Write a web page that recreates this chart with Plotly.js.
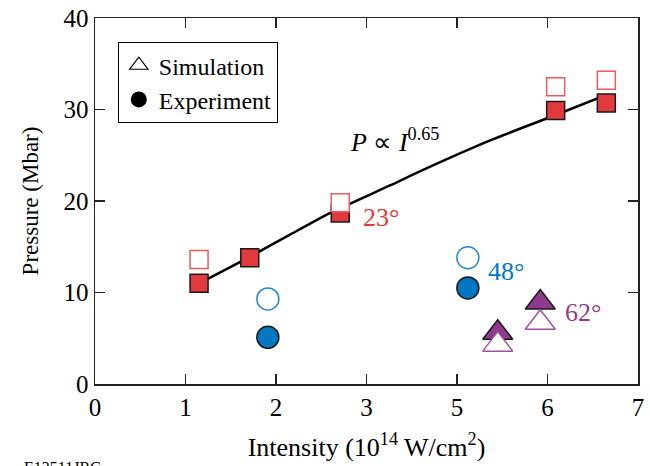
<!DOCTYPE html>
<html>
<head>
<meta charset="utf-8">
<script src="https://cdn.plot.ly/plotly-3.0.1.min.js"></script>
<style>html,body{margin:0;padding:0;background:#fff}#chart{width:650px;height:466px}</style>
</head>
<body>
<div id="chart"></div>
<script>
// Tick labels of the (non-uniform) intensity axis, one per equally spaced tick
const xTickLabels = [0, 1, 2, 3, 5, 6, 7];

// 23 deg (red squares)
const expSqX = [1.15, 1.71, 2.71, 6.09, 6.65];
const expSqY = [11.0, 13.8, 18.7, 29.9, 30.7];
const simSqX = [1.15, 2.71, 6.09, 6.65];
const simSqY = [13.6, 19.8, 32.5, 33.2];
// 48 deg (blue circles)
const expCircX = [1.91, 5.12];
const expCircY = [5.1, 10.5];
const simCircX = [1.91, 5.12];
const simCircY = [9.3, 13.8];
// 62 deg (purple triangles)
const expTriX = [5.45, 5.92];
const expTriY = [5.6, 8.9];
const simTriX = [5.45, 5.92];
const simTriY = [4.3, 6.7];
// Fit line P ~ I^0.65
const fitX = [1.15, 1.71, 2.15, 2.60, 3.52, 4.25, 5.36, 6.09, 6.65];
const fitY = [11.0, 13.9, 16.3, 18.7, 21.7, 23.4, 26.6, 29.4, 31.6];

// map intensity value to axis position via tick labels (piecewise linear)
function toPos(v) {
  for (let i = 0; i < xTickLabels.length - 1; i++) {
    const a = xTickLabels[i], b = xTickLabels[i + 1];
    if (v <= b || i === xTickLabels.length - 2) {
      return i + (v - a) / (b - a);
    }
  }
}
const P = arr => arr.map(toPos);

const serif = 'Liberation Serif, Times New Roman, serif';
const red = '#E0393E', redLight = '#EC5A5E';
const blue = '#0077C1', blueLight = '#2A8AD0';
const purple = '#8E3A8E', purpleLight = '#A050A0';
const edge = '#1a1a1a';

const traces = [
  {x: P(fitX), y: fitY, mode: 'lines', line: {color: '#000', width: 2.5, shape: 'spline', smoothing: 0.6}, showlegend: false, hoverinfo: 'skip'},
  {x: P(expSqX), y: expSqY, mode: 'markers', showlegend: false,
   marker: {symbol: 'square', size: 18, color: red, line: {color: edge, width: 1.5}}},
  {x: P(simSqX), y: simSqY, mode: 'markers', showlegend: false,
   marker: {symbol: 'square', size: 18, color: '#fff', line: {color: redLight, width: 1.5}}},
  {x: P(expCircX), y: expCircY, mode: 'markers', showlegend: false,
   marker: {symbol: 'circle', size: 22, color: blue, line: {color: edge, width: 1.5}}},
  {x: P(simCircX), y: simCircY, mode: 'markers', showlegend: false,
   marker: {symbol: 'circle', size: 22, color: '#fff', line: {color: blueLight, width: 1.5}}},
  {x: P(expTriX), y: expTriY, mode: 'markers', showlegend: false,
   marker: {symbol: 'triangle-up', size: 26, color: purple, line: {color: edge, width: 1.5}}},
  {x: P(simTriX), y: simTriY, mode: 'markers', showlegend: false,
   marker: {symbol: 'triangle-up', size: 26, color: '#fff', line: {color: purpleLight, width: 1.5}}},
  // legend entries
  {x: [null], y: [null], mode: 'markers', name: 'Simulation',
   marker: {symbol: 'triangle-up-open', size: 22, color: '#000', line: {width: 1.2}}},
  {x: [null], y: [null], mode: 'markers', name: 'Experiment',
   marker: {symbol: 'circle', size: 22, color: '#000'}}
];

const axisCommon = {
  showgrid: false, zeroline: false, showline: true, linecolor: '#222', linewidth: 1.5,
  mirror: 'ticks', ticks: 'inside', ticklen: 10, tickwidth: 1.5, tickcolor: '#222',
  tickfont: {family: serif, size: 25, color: '#000'}
};

const layout = {
  width: 650, height: 466,
  margin: {l: 95, r: 12, t: 18, b: 82},
  paper_bgcolor: '#fff', plot_bgcolor: '#fff',
  font: {family: serif, color: '#000'},
  xaxis: Object.assign({}, axisCommon, {
    range: [0, xTickLabels.length - 1],
    tickmode: 'array',
    tickvals: xTickLabels.map((_, i) => i),
    ticktext: xTickLabels.map(String),
    title: {text: 'Intensity (10<sup>14</sup> W/cm<sup>2</sup>)', font: {family: serif, size: 26}, standoff: 18}
  }),
  yaxis: Object.assign({}, axisCommon, {
    range: [0, 40], tickvals: [0, 10, 20, 30, 40],
    title: {text: 'Pressure (Mbar)', font: {family: serif, size: 23}, standoff: 18}
  }),
  showlegend: true,
  legend: {
    x: 0.042, y: 0.934, xanchor: 'left', yanchor: 'top',
    bgcolor: '#fff', bordercolor: '#000', borderwidth: 1,
    font: {family: serif, size: 24, color: '#000'},
    tracegroupgap: 0, itemwidth: 30
  },
  annotations: [
    {xref: 'x', yref: 'y', x: 2.94, y: 18.2, text: '23°', showarrow: false, xanchor: 'left',
     font: {family: serif, size: 26, color: red}},
    {xref: 'x', yref: 'y', x: 4.32, y: 12.3, text: '48°', showarrow: false, xanchor: 'left',
     font: {family: serif, size: 26, color: blue}},
    {xref: 'x', yref: 'y', x: 5.17, y: 7.8, text: '62°', showarrow: false, xanchor: 'left',
     font: {family: serif, size: 26, color: purple}},
    {xref: 'x', yref: 'y', x: 2.8, y: 26.6, text: '<i>P</i> ∝ <i>I</i><sup>0.65</sup>', showarrow: false, xanchor: 'left',
     font: {family: serif, size: 26, color: '#000'}},
    {xref: 'paper', yref: 'paper', x: -0.135, y: -0.2, text: 'E13511JRG', showarrow: false,
     xanchor: 'left', yanchor: 'top', font: {family: serif, size: 16, color: '#000'}}
  ]
};

Plotly.newPlot('chart', traces, layout, {displayModeBar: false, staticPlot: true});
</script>
</body>
</html>
